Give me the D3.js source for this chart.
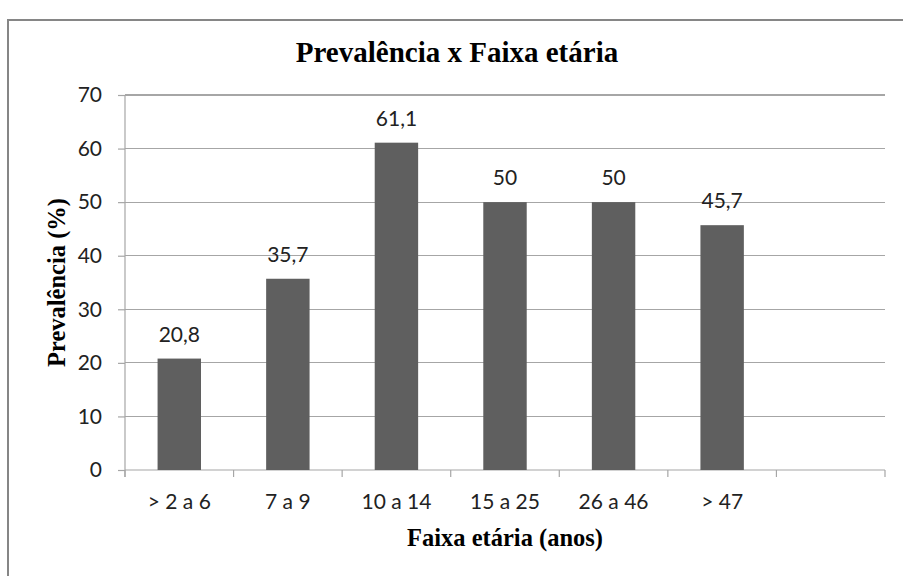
<!DOCTYPE html>
<html>
<head>
<meta charset="utf-8">
<script src="https://cdn.jsdelivr.net/npm/d3@7"></script>
<style>
  html, body { margin: 0; padding: 0; background: #fff; }
  svg { display: block; }
</style>
</head>
<body>
<svg id="chart" width="903" height="576"></svg>
<script>
// Faixas etárias (the last slot is left empty on purpose)
const categories = ["> 2 a 6", "7 a 9", "10 a 14", "15 a 25", "26 a 46", "> 47", ""];
// Prevalência (%) per faixa etária
const values = [20.8, 35.7, 61.1, 50, 50, 45.7];
const yTicks = [0, 10, 20, 30, 40, 50, 60, 70];

const titleText = "Prevalência x Faixa etária";
const xTitle = "Faixa etária (anos)";
const yTitle = "Prevalência (%)";

const svg = d3.select("#chart");
const plot = { left: 125, right: 885, top: 95, bottom: 470 };

const ptBR = d3.formatLocale({ decimal: ",", thousands: ".", grouping: [3], currency: ["R$", ""] });
const fmt = ptBR.format("~r");

// outer chart frame
svg.append("rect")
  .attr("x", 8).attr("y", 20)
  .attr("width", 905).attr("height", 580)
  .attr("fill", "#fff")
  .attr("stroke", "#868686").attr("stroke-width", 2);

const x = d3.scaleBand().domain(categories).range([plot.left, plot.right]).padding(0);
const y = d3.scaleLinear().domain([0, 70]).range([plot.bottom, plot.top]);

const gridColor = "#a6a6a6";
const labelFont = "Lato, 'Open Sans', sans-serif";
const serifFont = "'Liberation Serif', 'DejaVu Serif', serif";
const labelSize = 21;

// horizontal gridlines
svg.append("g")
  .selectAll("line")
  .data(yTicks.filter(d => d > 0))
  .join("line")
  .attr("x1", plot.left).attr("x2", plot.right)
  .attr("y1", d => y(d)).attr("y2", d => y(d))
  .attr("stroke", gridColor).attr("stroke-width", 1.2)
  .attr("shape-rendering", "crispEdges");

// y axis
const yAxis = svg.append("g")
  .attr("transform", `translate(${plot.left},0)`)
  .call(d3.axisLeft(y).tickValues(yTicks).tickSize(7).tickPadding(16).tickFormat(d3.format("d")));
yAxis.select(".domain").remove();
yAxis.append("line")
  .attr("x1", 0).attr("x2", 0)
  .attr("y1", plot.top).attr("y2", plot.bottom + 7)
  .attr("stroke", gridColor).attr("stroke-width", 1.2);
yAxis.selectAll(".tick line").attr("stroke", gridColor).attr("stroke-width", 1.2);
yAxis.selectAll(".tick text")
  .attr("fill", "#222")
  .attr("font-family", labelFont)
  .attr("font-size", labelSize);

// x axis with ticks at band boundaries
const xg = svg.append("g").attr("transform", `translate(0,${plot.bottom})`);
xg.append("line")
  .attr("x1", plot.left).attr("x2", plot.right)
  .attr("y1", 0).attr("y2", 0)
  .attr("stroke", gridColor).attr("stroke-width", 1.2);
const bounds = categories.map(c => x(c)).concat([x(categories[categories.length - 1]) + x.bandwidth()]);
xg.selectAll("line.tick")
  .data(bounds)
  .join("line")
  .attr("class", "tick")
  .attr("x1", d => d).attr("x2", d => d)
  .attr("y1", 0).attr("y2", 7)
  .attr("stroke", gridColor).attr("stroke-width", 1.2);
xg.selectAll("text")
  .data(categories)
  .join("text")
  .attr("x", d => x(d) + x.bandwidth() / 2)
  .attr("y", 39)
  .attr("text-anchor", "middle")
  .attr("fill", "#222")
  .attr("font-family", labelFont)
  .attr("font-size", labelSize)
  .text(d => d);

// bars
const barW = x.bandwidth() * 0.4;
const data = values.map((v, i) => ({ cat: categories[i], v }));
svg.append("g")
  .selectAll("rect")
  .data(data)
  .join("rect")
  .attr("x", d => x(d.cat) + (x.bandwidth() - barW) / 2)
  .attr("width", barW)
  .attr("y", d => y(d.v))
  .attr("height", d => y(0) - y(d.v))
  .attr("fill", "#5f5f5f");

// value labels
svg.append("g")
  .selectAll("text")
  .data(data)
  .join("text")
  .attr("x", d => x(d.cat) + x.bandwidth() / 2)
  .attr("y", d => y(d.v) - 17)
  .attr("text-anchor", "middle")
  .attr("fill", "#222")
  .attr("font-family", labelFont)
  .attr("font-size", labelSize)
  .text(d => fmt(d.v));

// chart title
svg.append("text")
  .attr("x", 457).attr("y", 62)
  .attr("text-anchor", "middle")
  .attr("font-family", serifFont)
  .attr("font-weight", "bold")
  .attr("font-size", 29)
  .attr("fill", "#000")
  .text(titleText);

// axis titles
svg.append("text")
  .attr("x", 505).attr("y", 546)
  .attr("text-anchor", "middle")
  .attr("font-family", serifFont)
  .attr("font-weight", "bold")
  .attr("font-size", 24.5)
  .attr("fill", "#000")
  .text(xTitle);

svg.append("text")
  .attr("transform", `translate(65,${(plot.top + plot.bottom) / 2}) rotate(-90)`)
  .attr("text-anchor", "middle")
  .attr("font-family", serifFont)
  .attr("font-weight", "bold")
  .attr("font-size", 24.5)
  .attr("fill", "#000")
  .text(yTitle);
</script>
</body>
</html>
